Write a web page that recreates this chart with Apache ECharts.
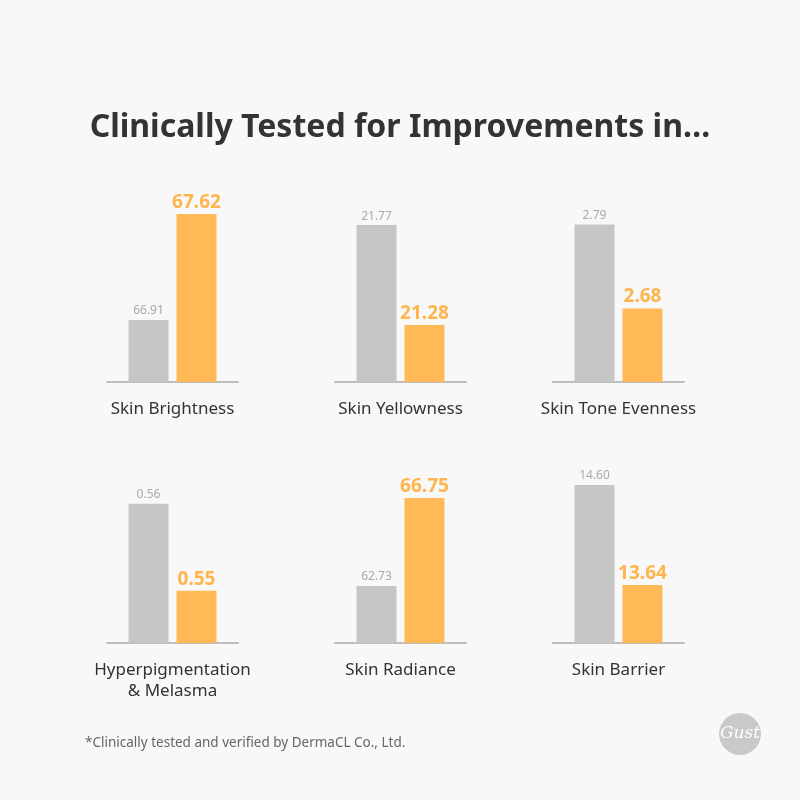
<!DOCTYPE html>
<html>
<head>
<meta charset="utf-8">
<script src="https://cdn.jsdelivr.net/npm/echarts@6/dist/echarts.min.js"></script>
<style>
  html, body { margin: 0; padding: 0; background: #f8f8f8; }
  #main { width: 800px; height: 800px; }
</style>
</head>
<body>
<div id="main"></div>
<script>
// chart data
var categories = ['Skin Brightness', 'Skin Yellowness', 'Skin Tone Evenness',
                  'Hyperpigmentation\n& Melasma', 'Skin Radiance', 'Skin Barrier'];
var beforeValues = [66.91, 21.77, 2.79, 0.56, 62.73, 14.60];
var afterValues  = [67.62, 21.28, 2.68, 0.55, 66.75, 13.64];
// truncated value axes (each panel has its own range)
var axisMin = [66.495, 21.001, 2.584, 0.544, 60.126, 13.083];
var axisMax = [67.714, 21.893, 2.822, 0.5649, 68.44, 14.83];

var colLeft = [107, 335, 553];
var rowTop = [200, 461];
var panelW = 131, panelH = 182;

var grids = [], xAxes = [], yAxes = [], series = [];
for (var i = 0; i < categories.length; i++) {
    var c = i % 3, r = Math.floor(i / 3);
    grids.push({ left: colLeft[c], top: rowTop[r], width: panelW, height: panelH });
    xAxes.push({
        type: 'category', gridIndex: i, data: [categories[i]],
        axisLine: { lineStyle: { color: '#bdbdbd', width: 2 } },
        axisTick: { show: false },
        axisLabel: { color: '#333', fontSize: 17, fontFamily: 'Noto Sans', margin: 17, lineHeight: 21 }
    });
    yAxes.push({
        type: 'value', gridIndex: i, min: axisMin[i], max: axisMax[i],
        show: false, splitLine: { show: false }
    });
    series.push({
        type: 'bar', xAxisIndex: i, yAxisIndex: i,
        data: [beforeValues[i]], barWidth: 40, barGap: '20%',
        itemStyle: { color: '#c6c6c6' },
        label: { show: true, position: 'top', distance: 3, color: '#a9a9a9',
                 fontSize: 12, fontFamily: 'Noto Sans',
                 formatter: function (p) { return p.value.toFixed(2); } }
    });
    series.push({
        type: 'bar', xAxisIndex: i, yAxisIndex: i,
        data: [afterValues[i]], barWidth: 40, barGap: '20%',
        itemStyle: { color: '#ffb957' },
        label: { show: true, position: 'top', distance: 2, color: '#ffb44d',
                 fontSize: 19, fontWeight: 'bold', fontFamily: 'Noto Sans',
                 formatter: function (p) { return p.value.toFixed(2); } }
    });
}

var myChart = echarts.init(document.getElementById('main'));
myChart.setOption({
    backgroundColor: '#f8f8f8',
    animation: false,
    title: {
        text: 'Clinically Tested for Improvements in…',
        left: 'center', top: 107,
        textStyle: { color: '#333', fontSize: 32, fontWeight: 'bold', fontFamily: 'Noto Sans' }
    },
    grid: grids,
    xAxis: xAxes,
    yAxis: yAxes,
    series: series,
    graphic: [
        { type: 'text', left: 85, top: 736,
          style: { text: '*Clinically tested and verified by DermaCL Co., Ltd.',
                   fill: '#666', fontSize: 13.5, fontFamily: 'Noto Sans' } },
        { type: 'circle', shape: { cx: 740, cy: 734, r: 21 }, style: { fill: '#c9c9c9' } },
        { type: 'text', x: 740, y: 734,
          style: { text: 'Gust', fill: '#fff', fontSize: 17, fontStyle: 'italic',
                   fontFamily: 'DejaVu Serif', align: 'center', verticalAlign: 'middle' } }
    ]
});
</script>
</body>
</html>
